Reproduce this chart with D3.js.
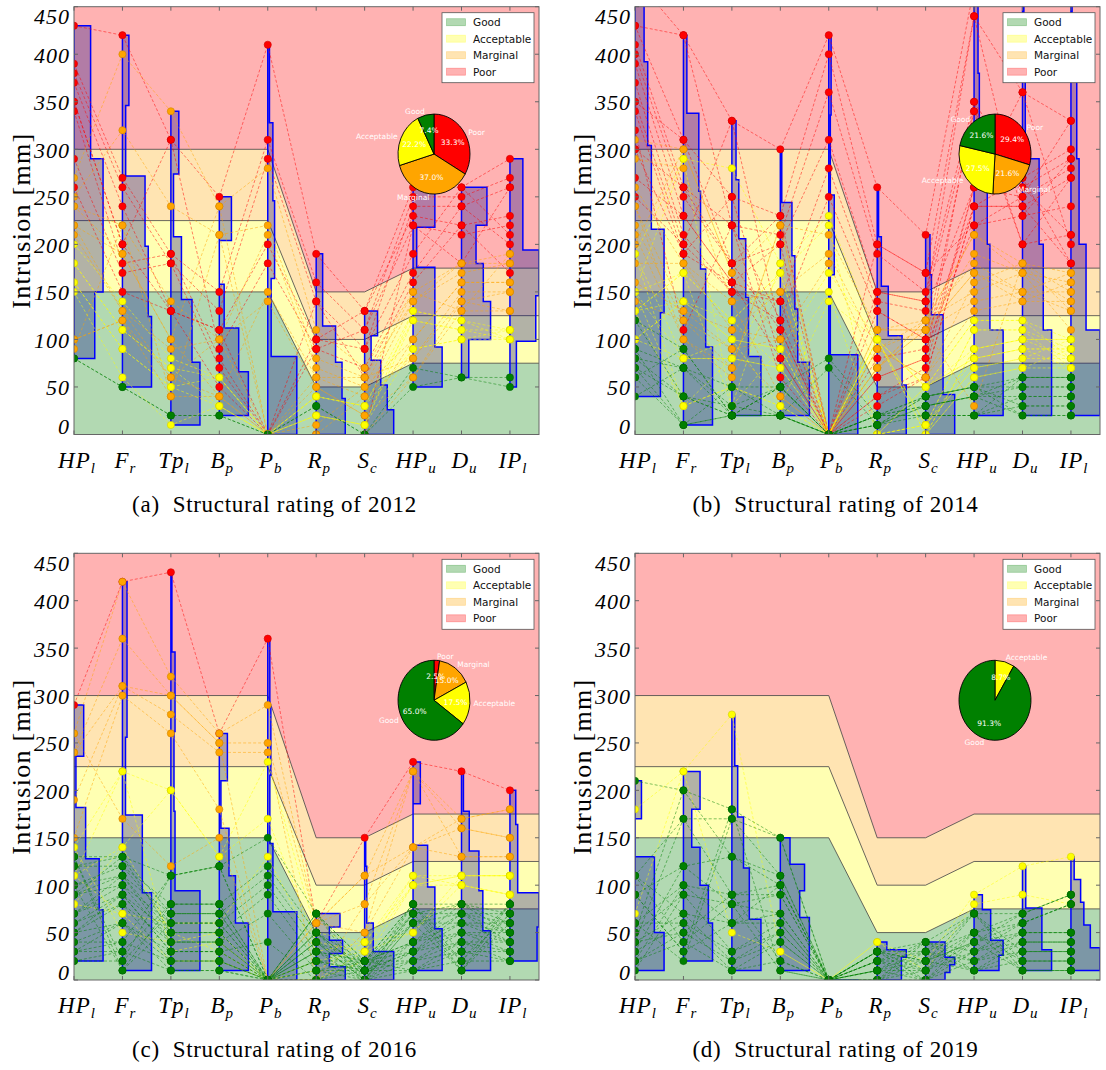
<!DOCTYPE html>
<html><head><meta charset="utf-8">
<script src="https://cdn.jsdelivr.net/npm/d3@7"></script>
<style>body{margin:0;background:#fff}</style>
</head><body>
<svg id="chart" width="1106" height="1070"></svg>
<script>
// ---------- categories / labels ----------
const categories = ["HP_l","F_r","Tp_l","B_p","P_b","R_p","S_c","HP_u","D_u","IP_l"];
const catLabels = [["HP","l"],["F","r"],["Tp","l"],["B","p"],["P","b"],["R","p"],["S","c"],["HP","u"],["D","u"],["IP","l"]];
const yTicks = [0,50,100,150,200,250,300,350,400,450];
const ratingOrder = ["Poor","Marginal","Acceptable","Good"];
const legendOrder = ["Good","Acceptable","Marginal","Poor"];
const ratingColors = {Good:"#008000",Acceptable:"#ffff00",Marginal:"#ffa500",Poor:"#ff0000"};
// rating zone limits (x in category index units)
const zoneX = [0,4,5,6,7,9.6];
const goodLimit = [150,150,50,50,75,75];
const acceptableLimit = [225,225,100,100,125,125];
const marginalLimit = [300,300,150,150,175,175];
// pie shares [Poor, Marginal, Acceptable, Good]
const pie2012 = [33.3,37.0,22.2,7.4];
const pie2014 = [29.4,21.6,27.5,21.6];
const pie2016 = [2.5,15.0,17.5,65.0];
const pie2019 = [0,0,8.7,91.3];

// ---------- vehicles: intrusion per category ----------
const poor2012 = [
[430,420,310,250,410,190,130,260,260,290],
[390,270,190,150,310,160,110,250,250,270],
[380,260,180,130,290,140,90,240,240,260],
[370,240,130,110,200,100,130,230,220,230],
[350,200,310,90,180,90,110,220,210,220],
[340,180,190,80,0,100,90,190,260,210],
[290,170,180,70,0,90,70,170,240,200],
[260,150,130,50,0,140,60,160,220,170],
[350,200,130,110,0,0,0,220,180,260]];
const marginal2012 = [
[270,400,340,240,280,110,70,150,180,190],
[250,320,240,210,220,80,60,140,170,180],
[240,220,140,100,210,70,50,100,160,160],
[220,190,100,40,150,60,40,80,150,150],
[210,130,90,100,140,50,20,60,140,130],
[100,120,60,40,0,10,50,150,130,190],
[90,220,40,210,0,0,40,140,180,180],
[240,190,100,240,0,50,20,100,160,160],
[220,130,60,100,0,60,60,80,140,150],
[100,120,40,40,0,0,0,60,130,130]];
const acceptable2012 = [
[200,140,80,60,0,40,30,130,120,110],
[180,110,70,30,0,20,10,120,110,100],
[160,90,50,60,0,40,30,90,100,110],
[150,60,10,30,0,20,10,130,120,100],
[180,110,70,60,0,40,30,120,110,110],
[160,90,50,30,0,20,10,90,100,100]];
const good2012 = [
[80,50,20,20,0,30,0,70,60,60],
[80,50,20,20,0,30,0,50,60,50]];

const poor2014 = [
[480,420,330,300,420,260,210,470,470,470],
[430,310,250,230,400,200,170,440,360,330],
[410,260,220,210,360,190,150,350,270,300],
[400,250,180,200,310,150,140,340,260,290],
[390,230,160,140,280,140,130,260,250,280],
[370,210,150,120,250,130,100,240,240,270],
[350,200,330,110,0,80,90,220,230,240],
[340,190,250,80,0,60,80,350,200,210],
[320,110,220,60,0,40,70,260,360,200],
[300,260,180,230,0,30,60,240,270,180],
[270,230,160,200,0,200,170,220,250,330],
[250,200,150,140,0,150,140,440,230,290],
[430,420,220,120,0,130,100,340,200,270],
[350,310,180,110,0,60,80,260,260,210],
[300,190,160,80,0,40,60,240,240,180]];
const marginal2014 = [
[310,300,170,220,210,110,120,210,180,170],
[290,280,140,150,190,90,110,190,170,160],
[260,180,110,100,180,70,120,180,150,150],
[240,130,90,40,0,110,110,170,140,140],
[220,120,70,220,0,90,60,160,180,130],
[210,100,60,150,0,70,120,150,170,110],
[200,300,170,100,0,110,110,140,150,170],
[180,180,140,40,0,90,60,130,140,160],
[160,130,110,150,0,70,110,30,180,150],
[140,120,90,100,0,90,120,210,170,140],
[240,100,70,220,0,70,110,170,150,130]];
const acceptable2014 = [
[190,290,280,180,230,100,50,120,120,100],
[150,170,120,170,220,0,10,110,110,90],
[130,140,100,90,170,100,0,90,100,80],
[100,80,80,70,150,0,50,80,90,70],
[190,30,50,30,140,100,10,70,80,100],
[150,290,30,180,0,0,0,60,70,90],
[130,170,120,170,0,100,50,120,120,80],
[100,140,100,90,0,0,10,110,110,70],
[190,80,80,70,0,100,0,90,100,100],
[150,30,50,30,0,0,50,80,90,90],
[130,170,30,90,0,100,10,70,80,80],
[100,140,120,70,0,0,0,60,70,70],
[150,80,100,30,0,100,50,90,100,100],
[130,30,80,170,0,0,10,80,90,90]];
const good2014 = [
[120,90,20,50,80,20,40,50,60,60],
[90,70,20,20,70,10,30,40,50,50],
[80,40,20,50,0,20,20,20,40,40],
[70,10,20,20,0,10,40,50,30,30],
[60,90,20,50,0,20,30,40,20,20],
[40,70,30,20,0,10,20,20,60,60],
[120,40,30,50,0,20,40,50,50,50],
[90,10,50,20,0,10,30,40,40,40],
[80,70,50,50,0,20,20,20,30,30],
[70,40,20,20,0,10,40,50,20,20],
[60,10,20,20,0,20,30,40,60,60]];

const poor2016 = [
[290,420,430,260,360,60,150,230,220,200]];
const marginal2016 = [
[260,420,320,260,290,60,110,220,170,180],
[240,360,300,250,250,60,80,140,160,150],
[190,310,280,240,240,0,50,220,130,130],
[150,300,260,180,0,60,110,140,170,180],
[260,170,120,150,0,0,80,220,160,150],
[240,310,300,250,0,60,50,140,130,130]];
const acceptable2016 = [
[140,220,200,130,230,50,40,110,110,110],
[110,140,200,130,170,40,30,100,100,90],
[80,70,60,60,130,30,40,50,110,110],
[140,50,40,50,0,20,30,110,100,90],
[110,220,30,40,0,10,40,100,110,110],
[80,140,50,30,0,0,30,50,100,90],
[110,70,20,20,0,0,20,100,110,110]];
const good2016 = [
[130,130,110,120,150,70,20,80,80,80],
[120,120,80,80,120,50,10,70,70,70],
[100,110,70,70,110,40,0,60,60,60],
[90,100,60,60,100,30,20,40,50,50],
[70,90,50,50,90,20,10,30,40,40],
[60,80,40,40,70,10,0,20,30,30],
[50,60,30,30,40,0,20,10,20,20],
[40,40,20,20,0,70,10,80,10,80],
[30,30,10,10,0,50,0,70,80,70],
[20,20,110,120,0,40,20,60,70,60],
[130,10,80,80,0,30,10,40,60,50],
[120,130,70,70,0,20,0,30,50,40],
[100,120,60,60,0,10,20,20,40,30],
[90,110,50,50,0,0,10,10,30,20],
[70,100,40,40,0,70,0,80,20,80],
[60,90,30,30,0,50,20,70,10,70],
[50,80,20,20,0,40,10,60,80,60],
[40,60,10,10,0,30,0,40,70,50],
[30,40,110,120,0,20,20,30,60,40],
[20,30,80,80,0,10,10,20,50,30],
[130,20,70,70,0,0,0,10,40,20],
[100,10,60,60,0,70,20,80,30,80],
[90,130,50,50,0,50,10,70,20,70],
[70,110,40,40,0,40,0,60,10,60],
[50,90,30,30,0,30,20,40,80,50],
[30,60,20,20,0,20,10,30,70,40]];

const poor2019 = [];
const marginal2019 = [];
const acceptable2019 = [
[180,220,280,30,0,40,20,90,120,130],
[70,220,50,30,0,40,10,80,90,80]];
const good2019 = [
[210,200,180,150,0,30,40,70,70,90],
[110,170,170,110,0,20,30,50,60,80],
[90,120,130,100,0,10,20,40,50,50],
[60,100,90,90,0,0,10,30,40,40],
[50,90,80,70,0,30,0,20,30,30],
[40,70,60,60,0,20,40,10,20,20],
[30,60,30,50,0,10,30,70,10,10],
[20,50,20,40,0,0,20,50,70,90],
[110,40,10,20,0,30,10,40,60,80],
[90,30,180,10,0,20,0,30,50,50],
[60,20,170,150,0,10,40,20,40,40],
[50,200,130,110,0,0,30,10,30,30],
[40,170,90,100,0,30,20,70,20,20],
[30,120,80,90,0,20,10,50,10,10],
[20,100,60,70,0,10,0,40,70,90],
[10,90,30,60,0,0,40,30,60,80],
[110,70,20,50,0,30,30,20,50,50],
[60,60,10,40,0,20,20,10,40,40],
[40,50,90,20,0,10,10,70,30,30],
[20,40,80,10,0,0,0,50,20,20],
[90,30,60,100,0,30,20,40,10,10]];

// ---------- layout ----------
const panels = [
 {id:"a", year:2012, x0:74,  x1:539,  yt:6.7,   yb:434.5, groups:[poor2012,marginal2012,acceptable2012,good2012], pie:pie2012},
 {id:"b", year:2014, x0:635, x1:1100, yt:6.7,   yb:434.5, groups:[poor2014,marginal2014,acceptable2014,good2014], pie:pie2014},
 {id:"c", year:2016, x0:74,  x1:539,  yt:553.3, yb:980,   groups:[poor2016,marginal2016,acceptable2016,good2016], pie:pie2016},
 {id:"d", year:2019, x0:635, x1:1100, yt:553.3, yb:980,   groups:[poor2019,marginal2019,acceptable2019,good2019], pie:pie2019}
];
const zoneFill = {Good:"rgba(0,128,0,0.3)",Acceptable:"rgba(255,255,0,0.3)",Marginal:"rgba(255,165,0,0.3)",Poor:"rgba(255,0,0,0.3)"};
const serif = "'Liberation Serif','DejaVu Serif',serif";
const sans = "'DejaVu Sans',sans-serif";

const svg = d3.select("#chart");
const defs = svg.append("defs");

panels.forEach((p,pi)=>{
  const x = d3.scaleLinear().domain([0,9.6]).range([p.x0,p.x1]);
  const y = d3.scaleLinear().domain([0,450]).range([p.yb,p.yt]);
  const clipId = "clip"+pi;
  defs.append("clipPath").attr("id",clipId).append("rect")
    .attr("x",p.x0).attr("y",p.yt).attr("width",p.x1-p.x0).attr("height",p.yb-p.yt);
  const g = svg.append("g");
  const pg = g.append("g").attr("clip-path",`url(#${clipId})`);

  // zones
  const low = zoneX.map(()=>-20), high = zoneX.map(()=>700);
  const bands = [["Good",low,goodLimit],["Acceptable",goodLimit,acceptableLimit],["Marginal",acceptableLimit,marginalLimit],["Poor",marginalLimit,high]];
  bands.forEach(([name,lo,hi])=>{
    const area = d3.area().x((d,i)=>x(zoneX[i])).y0((d,i)=>y(lo[i])).y1((d,i)=>y(hi[i]));
    pg.append("path").attr("d",area(zoneX)).attr("fill",zoneFill[name]);
  });
  [goodLimit,acceptableLimit,marginalLimit].forEach(lim=>{
    const line = d3.line().x((d,i)=>x(zoneX[i])).y((d,i)=>y(lim[i]));
    pg.append("path").attr("d",line(zoneX)).attr("fill","none").attr("stroke","#444").attr("stroke-opacity",0.8).attr("stroke-width",1);
  });

  // vehicles
  const vehicles = [];
  p.groups.forEach((grp,gi)=>grp.forEach(v=>vehicles.push({r:ratingOrder[gi],v})));

  // histograms (5 bins between min and max, widest bin = 0.6 category spacing)
  categories.forEach((c,i)=>{
    const vals = vehicles.map(d=>d.v[i]);
    let mn = d3.min(vals), mx = d3.max(vals);
    if (mx===mn){mn-=0.5;mx+=0.5;}
    const bw = (mx-mn)/5;
    const counts = [0,0,0,0,0];
    vals.forEach(v=>{counts[Math.min(4,Math.floor((v-mn)/bw))]++;});
    const cmax = d3.max(counts);
    const pts = [[i,mn]];
    counts.forEach((cn,k)=>{
      const w = cn/cmax*0.6;
      pts.push([i+w,mn+k*bw]); pts.push([i+w,mn+(k+1)*bw]);
    });
    pts.push([i,mx]);
    const line = d3.line().x(d=>x(d[0])).y(d=>y(d[1]));
    pg.append("path").attr("d",line(pts)+"Z")
      .attr("fill","rgba(0,0,139,0.3)").attr("stroke","#0000ff").attr("stroke-width",1.5).attr("stroke-linejoin","miter");
  });

  // vehicle lines
  const vline = d3.line().x((d,i)=>x(i)).y(d=>y(d));
  pg.append("g").selectAll("path").data(vehicles).join("path")
    .attr("d",d=>vline(d.v)).attr("fill","none")
    .attr("stroke",d=>ratingColors[d.r]).attr("stroke-opacity",0.55)
    .attr("stroke-width",0.9).attr("stroke-dasharray","3,2");

  // points
  const ptG = pg.append("g");
  vehicles.forEach(d=>{
    d.v.forEach((v,i)=>{
      ptG.append("circle").attr("cx",x(i)).attr("cy",y(v)).attr("r",3.6)
        .attr("fill",ratingColors[d.r]).attr("stroke",d3.color(ratingColors[d.r]).darker(0.6)).attr("stroke-width",0.6);
    });
  });

  // frame & ticks
  g.append("rect").attr("x",p.x0).attr("y",p.yt).attr("width",p.x1-p.x0).attr("height",p.yb-p.yt)
    .attr("fill","none").attr("stroke","#666").attr("stroke-width",1);
  categories.forEach((c,i)=>{
    g.append("line").attr("x1",x(i)).attr("x2",x(i)).attr("y1",p.yb).attr("y2",p.yb-4).attr("stroke","#666");
    g.append("line").attr("x1",x(i)).attr("x2",x(i)).attr("y1",p.yt).attr("y2",p.yt+4).attr("stroke","#666");
  });
  yTicks.forEach(t=>{
    g.append("line").attr("x1",p.x0).attr("x2",p.x0+4).attr("y1",y(t)).attr("y2",y(t)).attr("stroke","#666");
    g.append("line").attr("x1",p.x1).attr("x2",p.x1-4).attr("y1",y(t)).attr("y2",y(t)).attr("stroke","#666");
    const off = t===450 ? 10 : (t===0 ? -8 : 1);
    g.append("text").attr("x",p.x0-4).attr("y",y(t)+off).attr("text-anchor","end")
      .attr("dominant-baseline","central")
      .style("font-family",serif).style("font-style","italic").style("font-size","22px")
      .style("letter-spacing","1px").text(t);
  });
  catLabels.forEach((lab,i)=>{
    const t = g.append("text").attr("x",x(i)+3).attr("y",p.yb+33).attr("text-anchor","middle")
      .style("font-family",serif).style("font-style","italic").style("font-size","23px")
      .style("letter-spacing","1px");
    t.append("tspan").text(lab[0]);
    t.append("tspan").attr("dy",5).style("font-size","15px").text(lab[1]);
  });
  // y label
  const ym = (p.yt+p.yb)/2, yl = p.x0-53;
  g.append("text").attr("transform",`translate(${yl},${ym}) rotate(-90)`).attr("text-anchor","middle")
    .attr("dominant-baseline","central")
    .style("font-family",serif).style("font-size","26px").style("letter-spacing","1.3px")
    .text("Intrusion [mm]");
  // caption
  g.append("text").attr("x",(p.x0-64+p.x1)/2).attr("y",p.yb+77).attr("text-anchor","middle")
    .style("font-family",serif).style("font-size","23px").style("letter-spacing","0.7px")
    .text(`(${p.id})\u00a0\u00a0Structural rating of ${p.year}`);

  // pie
  const cx = p.x0+360, cy = y(295), rx = 36, ry = 40;
  const pieData = ratingOrder.map((r,k)=>({r,v:p.pie[k]})).filter(d=>d.v>0);
  const arcs = d3.pie().sort(null).value(d=>d.v)(pieData);
  const arc = d3.arc().innerRadius(0).outerRadius(1);
  const pieG = g.append("g").attr("transform",`translate(${cx},${cy}) scale(${rx},${ry})`);
  pieG.selectAll("path").data(arcs).join("path").attr("d",arc)
    .attr("fill",d=>ratingColors[d.data.r]).attr("stroke","#000").attr("stroke-width",0.9)
    .attr("vector-effect","non-scaling-stroke");
  arcs.forEach(a=>{
    const m = (a.startAngle+a.endAngle)/2;
    const s = Math.sin(m), co = Math.cos(m);
    g.append("text").attr("x",cx+1.1*rx*s).attr("y",cy-1.1*ry*co)
      .attr("text-anchor", s>=0 ? "start" : "end").attr("dominant-baseline","central")
      .style("font-family",sans).style("font-size","7.5px").attr("fill","#fff").text(a.data.r);
    g.append("text").attr("x",cx+0.6*rx*s).attr("y",cy-0.6*ry*co)
      .attr("text-anchor","middle").attr("dominant-baseline","central")
      .style("font-family",sans).style("font-size","7.5px").attr("fill","#fff")
      .text(d3.format(".1f")(a.data.v)+"%");
  });

  // legend
  const lx = p.x1-97, ly = p.yt+6;
  g.append("rect").attr("x",lx).attr("y",ly).attr("width",92).attr("height",70)
    .attr("fill","#fff").attr("stroke","#555").attr("stroke-width",0.8);
  legendOrder.forEach((r,k)=>{
    const ry0 = ly+9.5+k*16.5;
    g.append("rect").attr("x",lx+4.5).attr("y",ry0-3.5).attr("width",19).attr("height",7)
      .attr("fill",zoneFill[r]).attr("stroke",zoneFill[r]).attr("stroke-width",0.8);
    g.append("text").attr("x",lx+31).attr("y",ry0).attr("dominant-baseline","central")
      .style("font-family",sans).style("font-size","10.5px").attr("fill","#111").text(r);
  });
});
</script>
</body></html>
